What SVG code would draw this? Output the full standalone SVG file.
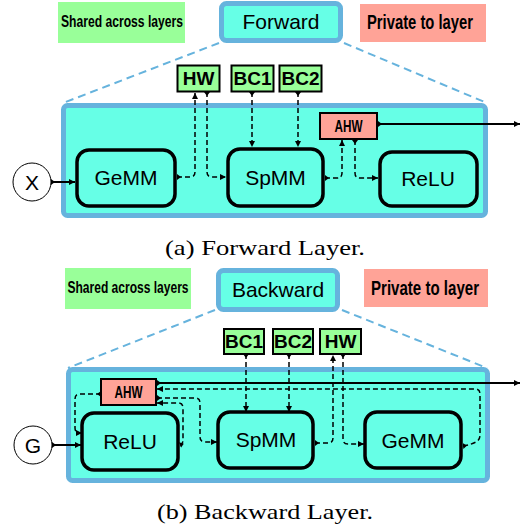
<svg xmlns="http://www.w3.org/2000/svg" width="523" height="531" viewBox="0 0 523 531">
<defs>
<marker id="ah" viewBox="0 0 10 10" refX="10" refY="5" markerWidth="7" markerHeight="6" orient="auto" markerUnits="userSpaceOnUse"><path d="M0,0 L10,5 L0,10 z" fill="#000"/></marker>
<marker id="tl" viewBox="0 0 4 6" refX="0" refY="3" markerWidth="4" markerHeight="6" orient="auto" markerUnits="userSpaceOnUse"><path d="M0,0 L4,3 L0,6 z" fill="#000"/></marker>
<style>
.legG{fill:#99FF99}
.legP{fill:#FFA397}
.legT{font-family:"Liberation Sans",Arial,sans-serif;font-weight:bold;fill:#000;text-anchor:middle}
.legS{font-size:16px}
.legR{font-size:20px}
.title{fill:#66FFE6;stroke:#66B3DD;stroke-width:5}
.titleT{font-family:"Liberation Sans",Arial,sans-serif;font-size:21px;fill:#000;text-anchor:middle}
.zoom{stroke:#66B3DD;stroke-width:2;stroke-dasharray:8,5;fill:none}
.layer{fill:#66FFE6;stroke:#66B3DD;stroke-width:5}
.op{fill:#66FFE6;stroke:#000;stroke-width:3.5}
.opT{font-family:"Liberation Sans",Arial,sans-serif;font-size:21px;fill:#000;text-anchor:middle}
.sh{fill:#99FF99;stroke:#000;stroke-width:2}
.pr{fill:#FFA397;stroke:#000;stroke-width:2}
.bT{font-family:"Liberation Sans",Arial,sans-serif;font-weight:bold;font-size:19px;fill:#000;text-anchor:middle}
.aT{font-family:"Liberation Sans",Arial,sans-serif;font-weight:bold;font-size:17px;fill:#000;text-anchor:middle}
.inp{fill:#fff;stroke:#000;stroke-width:1}
.inT{font-family:"Liberation Sans",Arial,sans-serif;font-size:21px;fill:#000;text-anchor:middle}
.d{fill:none;stroke:#000;stroke-width:1.5;stroke-dasharray:5,3;marker-end:url(#ah);marker-start:url(#tl)}
.s{fill:none;stroke:#000;stroke-width:2;marker-end:url(#ah);marker-start:url(#tl)}
.cap{font-family:"Liberation Serif","Times New Roman",serif;font-size:21px;fill:#000;text-anchor:middle}
</style>
</defs>

<!-- ===== Forward ===== -->
<g id="legend-shared-a"><rect class="legG" x="58" y="2" width="127" height="41"/><text class="legT legS" x="122" y="27" textLength="122" lengthAdjust="spacingAndGlyphs">Shared across layers</text></g>
<g id="legend-private-a"><rect class="legP" x="360" y="4" width="126" height="38"/><text class="legT legR" x="420" y="29" textLength="106" lengthAdjust="spacingAndGlyphs">Private to layer</text></g>
<g id="forward-title"><rect class="title" x="221.5" y="3.5" width="119" height="37" rx="5"/><text class="titleT" x="281" y="29">Forward</text></g>
<g id="forward-zoom"><line class="zoom" x1="219" y1="43" x2="63" y2="103"/><line class="zoom" x1="344" y1="43" x2="487" y2="103"/></g>
<g id="forward-layer"><rect class="layer" x="63.5" y="105.5" width="422" height="110" rx="4"/></g>
<g id="f-HW"><rect class="sh" x="177.5" y="65.5" width="42" height="26"/><text class="bT" x="198.5" y="85">HW</text></g>
<g id="f-BC1"><rect class="sh" x="231.5" y="65.5" width="42" height="26"/><text class="bT" x="252.5" y="85">BC1</text></g>
<g id="f-BC2"><rect class="sh" x="279.5" y="65.5" width="42" height="26"/><text class="bT" x="300.5" y="85">BC2</text></g>
<g id="f-GeMM"><rect class="op" x="77" y="150" width="98" height="56" rx="12"/><text class="opT" x="126" y="185">GeMM</text></g>
<g id="f-SpMM"><rect class="op" x="228" y="149" width="95" height="57" rx="12"/><text class="opT" x="275.5" y="185">SpMM</text></g>
<g id="f-ReLU"><rect class="op" x="380" y="152" width="97" height="54" rx="12"/><text class="opT" x="428" y="186">ReLU</text></g>
<g id="f-AHW"><rect class="pr" x="320" y="113" width="57" height="26"/><text class="aT" x="348.5" y="132" textLength="28" lengthAdjust="spacingAndGlyphs">AHW</text></g>
<g id="f-X"><circle class="inp" cx="32" cy="182" r="19"/><text class="inT" x="32" y="189.5">X</text></g>
<text class="cap" x="265" y="255" textLength="200" lengthAdjust="spacingAndGlyphs">(a) Forward Layer.</text>

<!-- ===== Backward ===== -->
<g id="legend-shared-b"><rect class="legG" x="65" y="268" width="126" height="41"/><text class="legT legS" x="128" y="293" textLength="121" lengthAdjust="spacingAndGlyphs">Shared across layers</text></g>
<g id="legend-private-b"><rect class="legP" x="364" y="269" width="124" height="38"/><text class="legT legR" x="425" y="295" textLength="108" lengthAdjust="spacingAndGlyphs">Private to layer</text></g>
<g id="backward-title"><rect class="title" x="218.5" y="270.5" width="119" height="39" rx="5"/><text class="titleT" x="278" y="297">Backward</text></g>
<g id="backward-zoom"><line class="zoom" x1="215" y1="310" x2="68" y2="368"/><line class="zoom" x1="342" y1="310" x2="487" y2="368"/></g>
<g id="backward-layer"><rect class="layer" x="68.5" y="369.5" width="419" height="111" rx="4"/></g>
<g id="b-BC1"><rect class="sh" x="224" y="329" width="40" height="25"/><text class="bT" x="244" y="348">BC1</text></g>
<g id="b-BC2"><rect class="sh" x="273" y="329" width="40" height="25"/><text class="bT" x="293" y="348">BC2</text></g>
<g id="b-HW"><rect class="sh" x="320" y="329" width="41" height="25"/><text class="bT" x="340.5" y="348">HW</text></g>
<g id="b-ReLU"><rect class="op" x="82" y="413" width="96" height="57" rx="12"/><text class="opT" x="130" y="449">ReLU</text></g>
<g id="b-SpMM"><rect class="op" x="218" y="412" width="95" height="56" rx="12"/><text class="opT" x="266" y="447">SpMM</text></g>
<g id="b-GeMM"><rect class="op" x="365" y="412" width="96" height="56" rx="12"/><text class="opT" x="413" y="448">GeMM</text></g>
<g id="b-AHW"><rect class="pr" x="101" y="379" width="55" height="26"/><text class="aT" x="128.5" y="398" textLength="28" lengthAdjust="spacingAndGlyphs">AHW</text></g>
<g id="b-G"><circle class="inp" cx="33" cy="445" r="19"/><text class="inT" x="33" y="452.5">G</text></g>
<text class="cap" x="265" y="519" textLength="216" lengthAdjust="spacingAndGlyphs">(b) Backward Layer.</text>

<!-- ===== Connectors ===== -->
<g id="connectors">
<path class="s" d="M51,182 H75"/>
<path class="s" d="M378,124 H520"/>
<path class="d" d="M177,177 H190 Q195,177 195,172 V93"/>
<path class="d" d="M207,92 V172 Q207,177 212,177 H226"/>
<path class="d" d="M252,92 V147"/>
<path class="d" d="M298,92 V147"/>
<path class="d" d="M325,178 H337 Q342,178 342,173 V140"/>
<path class="d" d="M355,140 V173 Q355,178 360,178 H378"/>

<path class="s" d="M52,445 H81"/>
<path class="s" d="M157,383 H520"/>
<path class="d" d="M101,394 H80 Q75,394 75,399 V428 Q75,433 80,433 H82"/>
<path class="d" d="M180,445 Q183,444 183,440 V408 Q183,403 178,403 H157"/>
<path class="d" d="M157,398 H195 Q200,398 200,403 V437 Q200,442 205,442 H217"/>
<path class="d" d="M315,443 H328 Q333,443 333,438 V355"/>
<path class="d" d="M343,354 V439 Q343,444 348,444 H364"/>
<path class="d" d="M463,446 Q470,445 476,442 Q480,440 480,435 V394 Q480,389 475,389 H157"/>
<path class="d" d="M246,354 V412"/>
<path class="d" d="M289,354 V412"/>
</g>
</svg>
